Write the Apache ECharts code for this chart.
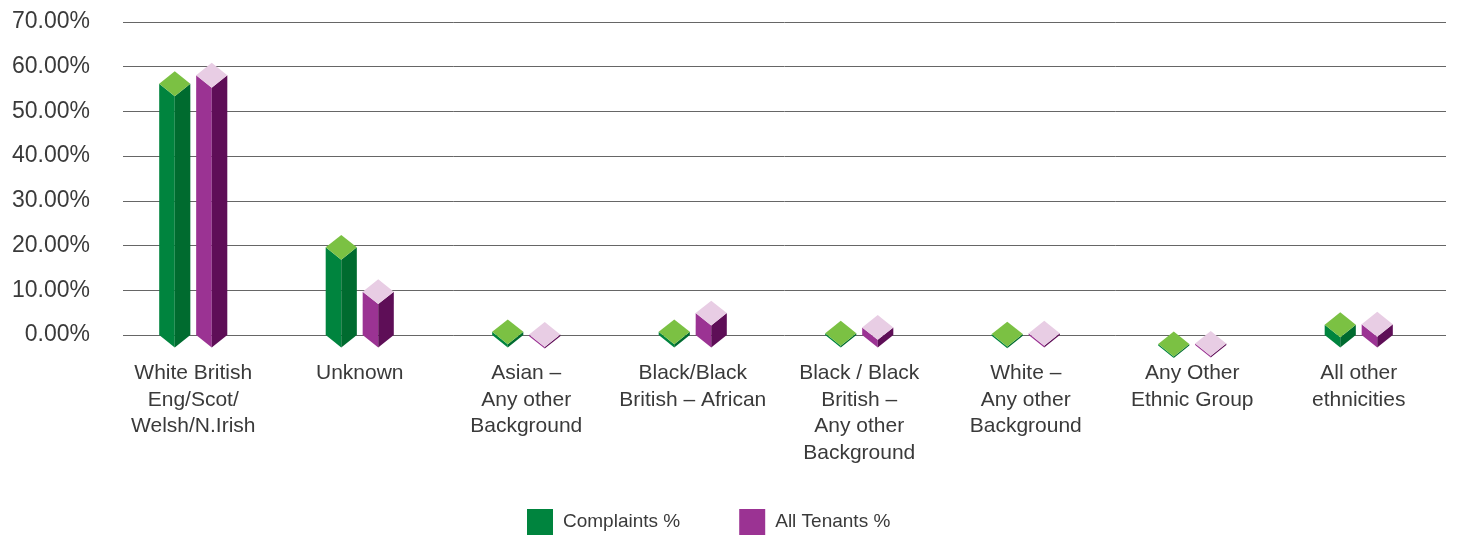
<!DOCTYPE html>
<html>
<head>
<meta charset="utf-8">
<script src="https://cdn.jsdelivr.net/npm/echarts@6/dist/echarts.min.js"></script>
<style>
  html, body { margin: 0; padding: 0; background: #ffffff; }
  #chart { width: 1457px; height: 537px; }
</style>
</head>
<body>
<div id="chart"></div>
<script>
// Ethnicity breakdown: complaints vs. all tenants (percent)
const categories = [
  'White British\nEng/Scot/\nWelsh/N.Irish',
  'Unknown',
  'Asian –\nAny other\nBackground',
  'Black/Black\nBritish – African',
  'Black / Black\nBritish –\nAny other\nBackground',
  'White –\nAny other\nBackground',
  'Any Other\nEthnic Group',
  'All other\nethnicities'
];
const complaints = [56.2, 19.6, 0.7, 0.7, 0.4, 0.2, -2.0, 2.3];
const allTenants = [58.1, 9.7, 0.1, 4.9, 1.7, 0.4, -1.9, 2.4];
const yTicks = [0, 10, 20, 30, 40, 50, 60, 70];

const FONT = '"Liberation Sans", Arial, sans-serif';
const TEXT = '#3a3a3a';

// colours for each prism: front-left face, front-right face, top diamond
const palette = {
  complaints: { left: '#00843E', right: '#006B2F', top: '#7BC143' },
  tenants:    { left: '#9B3393', right: '#5E0E57', top: '#E8CDE4' }
};

// Pseudo-3D column: two visible side faces and a diamond cap
function prism(offsetRatio, colors) {
  return function (params, api) {
    const idx = api.value(0);
    const val = api.value(1);
    const base = api.coord([idx, 0]);
    const top = api.coord([idx, val]);
    const band = api.size([1, 0])[0];
    const cx = base[0] + offsetRatio * band;
    const hw = band * 0.0935;      // half width of the column
    const hh = hw * 0.8;           // half height of the cap diamond
    const yt = top[1];
    const yb = Math.max(base[1], yt + 1.6);
    return {
      type: 'group',
      children: [
        { type: 'polygon', shape: { points: [[cx - hw, yt], [cx, yt + hh], [cx, yb + hh], [cx - hw, yb]] },
          style: { fill: colors.left } },
        { type: 'polygon', shape: { points: [[cx, yt + hh], [cx + hw, yt], [cx + hw, yb], [cx, yb + hh]] },
          style: { fill: colors.right } },
        { type: 'polygon', shape: { points: [[cx, yt - hh], [cx + hw, yt], [cx, yt + hh], [cx - hw, yt]] },
          style: { fill: colors.top } }
      ]
    };
  };
}

const chart = echarts.init(document.getElementById('chart'), null, { renderer: 'canvas' });

chart.setOption({
  animation: false,
  backgroundColor: '#ffffff',
  grid: [
    // value grid: tick labels and horizontal lines
    { left: 123, right: 11, top: 22, bottom: 202 },
    // category grid: columns and category labels
    { left: 110, right: 15, top: 22, bottom: 202 }
  ],
  legend: {
    left: 522,
    top: 504,
    itemWidth: 26,
    itemHeight: 26,
    itemGap: 59,
    icon: 'rect',
    data: ['Complaints %', 'All Tenants %'],
    textStyle: { fontFamily: FONT, fontSize: 19, color: TEXT, padding: [6, 0, 0, 5] }
  },
  xAxis: [
    { type: 'category', gridIndex: 0, data: categories, show: false },
    {
      type: 'category', gridIndex: 1, data: categories,
      axisLine: { show: false }, axisTick: { show: false }, splitLine: { show: false },
      axisLabel: {
        interval: 0, margin: 25, fontFamily: FONT, fontSize: 21, lineHeight: 26.5,
        color: TEXT, align: 'center', verticalAlign: 'top'
      }
    }
  ],
  yAxis: [
    {
      type: 'value', gridIndex: 0, min: yTicks[0], max: yTicks[yTicks.length - 1], interval: 10,
      axisLine: { show: false }, axisTick: { show: false },
      splitLine: { lineStyle: { color: '#666666', width: 1 } },
      axisLabel: {
        margin: 33, fontFamily: FONT, fontSize: 23, color: TEXT,
        formatter: v => v.toFixed(2) + '%'
      }
    },
    {
      type: 'value', gridIndex: 1, min: yTicks[0], max: yTicks[yTicks.length - 1], interval: 10,
      show: false
    }
  ],
  series: [
    {
      name: 'Complaints %', type: 'custom', xAxisIndex: 1, yAxisIndex: 1, clip: false,
      itemStyle: { color: palette.complaints.left },
      renderItem: prism(-0.111, palette.complaints),
      data: complaints.map((v, i) => [i, v])
    },
    {
      name: 'All Tenants %', type: 'custom', xAxisIndex: 1, yAxisIndex: 1, clip: false,
      itemStyle: { color: palette.tenants.left },
      renderItem: prism(0.111, palette.tenants),
      data: allTenants.map((v, i) => [i, v])
    }
  ]
});
</script>
</body>
</html>
